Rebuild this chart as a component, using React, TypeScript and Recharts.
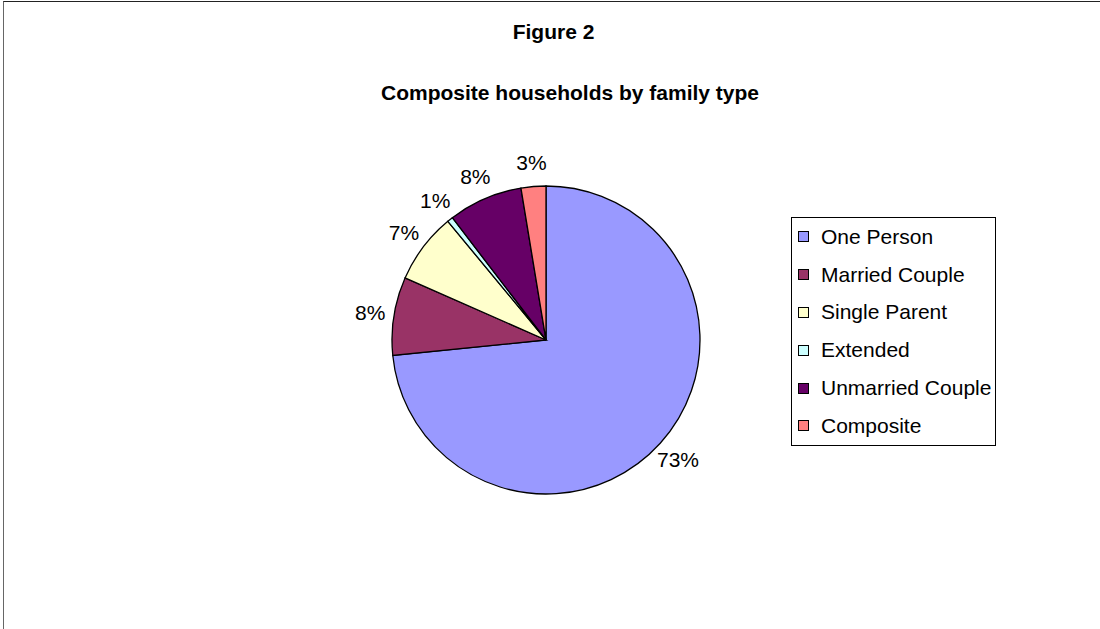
import React from 'react';
import { PieChart, Pie, Cell, Legend } from 'recharts';

const familyTypes = ['One Person', 'Married Couple', 'Single Parent', 'Extended', 'Unmarried Couple', 'Composite'];
const shares = [73.4, 8.2, 7.4, 0.6, 7.8, 2.6];
const sliceColors = ['#9999FF', '#993366', '#FFFFCC', '#CCFFFF', '#660066', '#FF8080'];

const data = familyTypes.map((name, i) => ({ name, value: shares[i] }));

const RADIAN = Math.PI / 180;
const font = 'Arial, "Liberation Sans", sans-serif';

const renderLabel = ({ cx, cy, midAngle, outerRadius, percent }: any) => {
    const r = outerRadius + 24;
    const x = cx + r * Math.cos(-midAngle * RADIAN);
    const y = cy + r * Math.sin(-midAngle * RADIAN);
    return (
        <text x={x} y={y} textAnchor="middle" dominantBaseline="central" fill="#000" fontSize={21} fontFamily={font}>
            {`${Math.round(percent * 100)}%`}
        </text>
    );
};

const LegendBox = () => (
    <div style={{ width: 205, height: 229, border: '1px solid #000', background: '#fff', boxSizing: 'border-box', fontFamily: font }}>
        {familyTypes.map((name, i) => (
            <div key={name} style={{ display: 'flex', alignItems: 'center', height: 37.8, paddingLeft: 6 }}>
                <span style={{ width: 9, height: 9, background: sliceColors[i], border: '1px solid #000', marginRight: 12, display: 'inline-block', flexShrink: 0 }} />
                <span style={{ fontSize: 21, color: '#000', whiteSpace: 'nowrap' }}>{name}</span>
            </div>
        ))}
    </div>
);

export default function App() {
    return (
        <div style={{ position: 'absolute', left: 0, top: 0, width: 1100, height: 629, background: '#fff', overflow: 'hidden' }}>
            <div style={{ position: 'absolute', left: 3, top: 1, width: 1097, height: 628, borderTop: '1px solid #222', borderLeft: '1px solid #666' }} />
            <div style={{ position: 'absolute', left: 0, width: 1107, top: 20, textAlign: 'center', fontFamily: font, fontWeight: 'bold', fontSize: 21 }}>Figure 2</div>
            <div style={{ position: 'absolute', left: 0, width: 1140, top: 81, textAlign: 'center', fontFamily: font, fontWeight: 'bold', fontSize: 21 }}>Composite households by family type</div>
            <PieChart width={1100} height={629} margin={{ top: 0, right: 0, bottom: 0, left: 0 }} style={{ position: 'absolute', left: 0, top: 0 }}>
                <Pie
                    data={data}
                    dataKey="value"
                    nameKey="name"
                    cx={546}
                    cy={340}
                    outerRadius={154}
                    startAngle={90}
                    endAngle={-270}
                    stroke="#000"
                    strokeWidth={1.3}
                    label={renderLabel}
                    labelLine={false}
                    isAnimationActive={false}
                >
                    {data.map((d, i) => (
                        <Cell key={d.name} fill={sliceColors[i]} />
                    ))}
                </Pie>
                <Legend content={<LegendBox />} wrapperStyle={{ left: 791, top: 217, width: 205, bottom: 'auto' }} />
            </PieChart>
        </div>
    );
}
